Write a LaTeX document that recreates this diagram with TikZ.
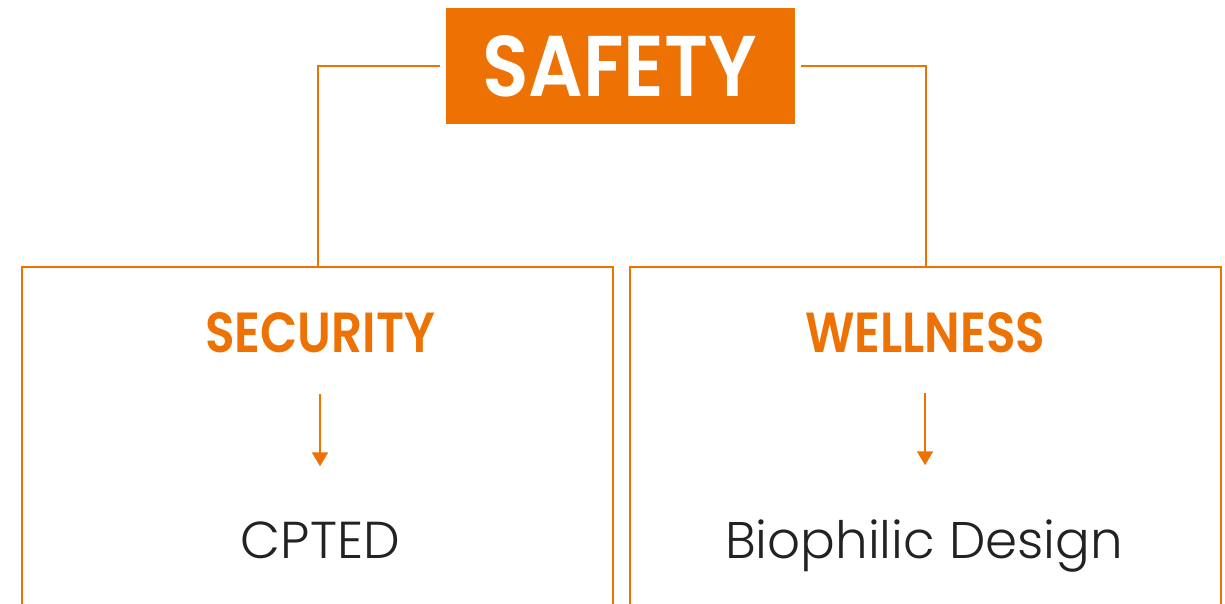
\documentclass[tikz,border=0pt]{standalone}
\usepackage{fontspec}
\usepackage{graphicx}
\setmainfont{Poppins}
\newfontfamily\poplight{Poppins Light}
\newfontfamily\popsemi{Poppins SemiBold}
\usetikzlibrary{arrows.meta}
\definecolor{sorange}{RGB}{238,114,3}
\definecolor{sdark}{RGB}{34,34,34}
\tikzset{
  txt/.style={inner sep=0pt, outer sep=0pt},
  heading/.style={txt, text=sorange, font=\popsemi},
  body/.style={txt, text=sdark, font=\poplight},
  panel/.style={draw=sorange, line width=2pt},
  link/.style={draw=sorange, line width=2pt},
  downarrow/.style={draw=sorange, line width=2pt, -{Triangle[width=16pt,length=14pt]}},
}
\begin{document}
\begin{tikzpicture}[x=1pt,y=-1pt]
\useasboundingbox (0,0) rectangle (1225,604);
\clip (0,0) rectangle (1225,604);
% title box
\node[fill=sorange, minimum width=349pt, minimum height=116pt, inner sep=0pt, outer sep=0pt] (safety) at (620.5,66) {};
\node[txt, anchor=south west, text=white, font=\popsemi] (safetytxt) at (482,97) {\resizebox{275pt}{61pt}{SAFETY}};
% panels (open at the bottom, extending past the picture)
\node[panel, minimum width=591pt, minimum height=400pt, inner sep=0pt, anchor=north west] (secbox) at (21,266) {};
\node[panel, minimum width=591pt, minimum height=400pt, inner sep=0pt, anchor=north west] (welbox) at (629,266) {};
% connectors
\coordinate (lstart) at ([xshift=-6pt]safety.west);
\coordinate (rstart) at ([xshift=6pt]safety.east);
\draw[link] (lstart) -| (secbox.north);
\draw[link] (rstart) -| (welbox.north);
% headings
\node[heading, anchor=south west] (security) at (205,353) {\resizebox{230pt}{40pt}{SECURITY}};
\node[heading, anchor=south west] (wellness) at (805,353) {\resizebox{240pt}{40pt}{WELLNESS}};
% body texts
\node[body, anchor=base] (cpted) at (320.5,558) {\resizebox{159pt}{!}{CPTED}};
\node[body, anchor=base] (bio) at (924,558) {\resizebox{398pt}{!}{Biophilic Design}};
% arrows
\draw[downarrow, shorten <=41pt, shorten >=55pt] (security.south) -- (security.south |- cpted.north);
\draw[downarrow, shorten <=40pt, shorten >=54pt] (wellness.south) -- (wellness.south |- bio.north);
\end{tikzpicture}
\end{document}
